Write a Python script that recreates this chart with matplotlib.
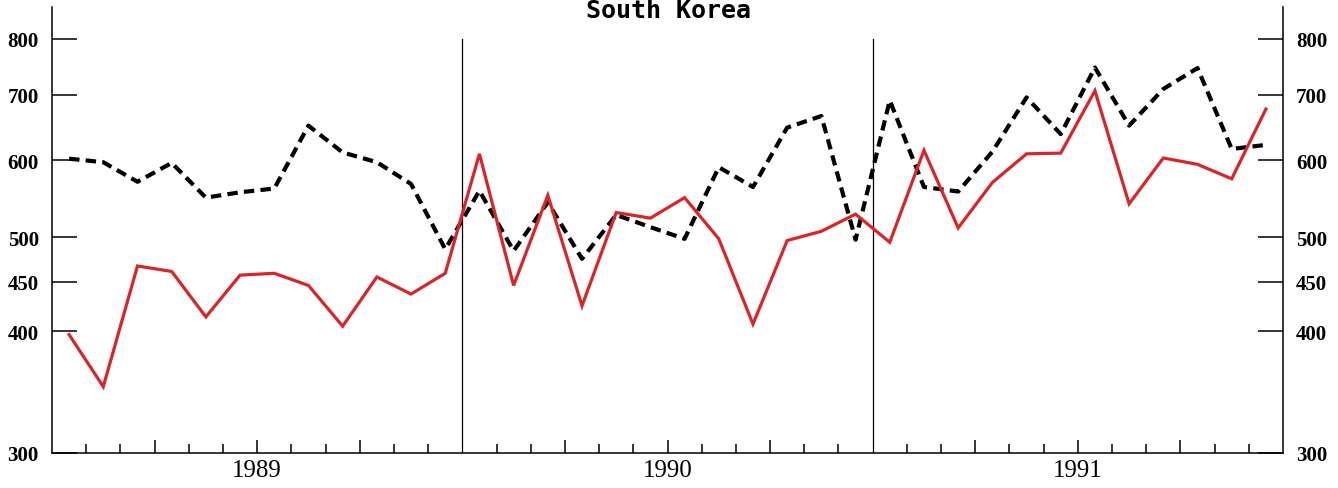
import matplotlib
matplotlib.use("Agg")
import matplotlib.pyplot as plt
import numpy as np

# ---- data (monthly, Jan 1989 - Dec 1991) ----
years = ["1989", "1990", "1991"]
red_series = [397, 351, 467, 461, 414, 457, 459, 446, 405, 455, 437, 459,
              609, 446, 552, 425, 530, 523, 549, 498, 407, 496, 507, 528,
              494, 614, 511, 569, 609, 610, 707, 541, 603, 594, 574, 677]
black_series = [602, 597, 570, 596, 549, 556, 561, 651, 611, 597, 567, 486,
                558, 484, 543, 475, 527, 512, 498, 590, 563, 648, 666, 497,
                691, 563, 557, 612, 696, 638, 747, 651, 710, 746, 616, 622]
y_ticks = [300, 400, 450, 500, 600, 700, 800]
title = "South Korea"

W, H = 1338, 489
fig = plt.figure(figsize=(W / 100, H / 100), dpi=100)
fig.patch.set_facecolor("white")
ax = fig.add_axes([52 / W, 1 - 454 / H, (1283 - 52) / W, (454 - 8) / H])

n = len(red_series)
x = np.arange(n) + 0.5
ax.plot(x, black_series, color="black", lw=3.0, dashes=(2.5, 1.5),
        solid_capstyle="butt", zorder=3)
ax.plot(x, red_series, color="#d82628", lw=2.3, zorder=4,
        solid_joinstyle="miter")

ax.set_yscale("log")
ax.set_ylim(300, 862)
ax.set_xlim(0, n)
ax.yaxis.set_minor_locator(matplotlib.ticker.NullLocator())
ax.set_yticks(y_ticks)
ax.set_yticklabels([str(v) for v in y_ticks])

# year separators
for b in range(12, n, 12):
    ax.plot([b, b], [300, 800], color="black", lw=0.9, zorder=2)

# x ticks: quarters long (major), months short (minor)
quarters = [m for m in range(1, n) if m % 3 == 0 and m % 12 != 0]
months = [m for m in range(1, n) if m % 3 != 0]
ax.set_xticks(quarters)
labels = []
for q in quarters:
    if q % 12 == 6:
        labels.append(years[q // 12])
    else:
        labels.append("")
ax.set_xticklabels(labels)
ax.set_xticks(months, minor=True)

ax.tick_params(axis="x", which="major", direction="in", length=9.5, width=1.1,
               pad=4, labelsize=18)
ax.tick_params(axis="x", which="minor", direction="in", length=6.5, width=1.1)
ax.tick_params(axis="y", which="major", direction="in", length=18, width=1.1,
               pad=9.5, labelsize=15, left=True, right=True,
               labelleft=True, labelright=True)
for lab in ax.get_xticklabels():
    lab.set_fontfamily("Liberation Serif")
for t in ax.yaxis.get_major_ticks():
    for lab in (t.label1, t.label2):
        lab.set_fontfamily("Liberation Serif")
        lab.set_fontweight("bold")

ax.spines["top"].set_visible(False)
for s in ("left", "right", "bottom"):
    ax.spines[s].set_linewidth(1.1)

fig.text(0.5, 1 - 18 / H, title, ha="center", va="baseline",
         family="DejaVu Sans Mono", fontweight="bold", fontsize=18)

fig.savefig("out.png", dpi=100, facecolor="white")
